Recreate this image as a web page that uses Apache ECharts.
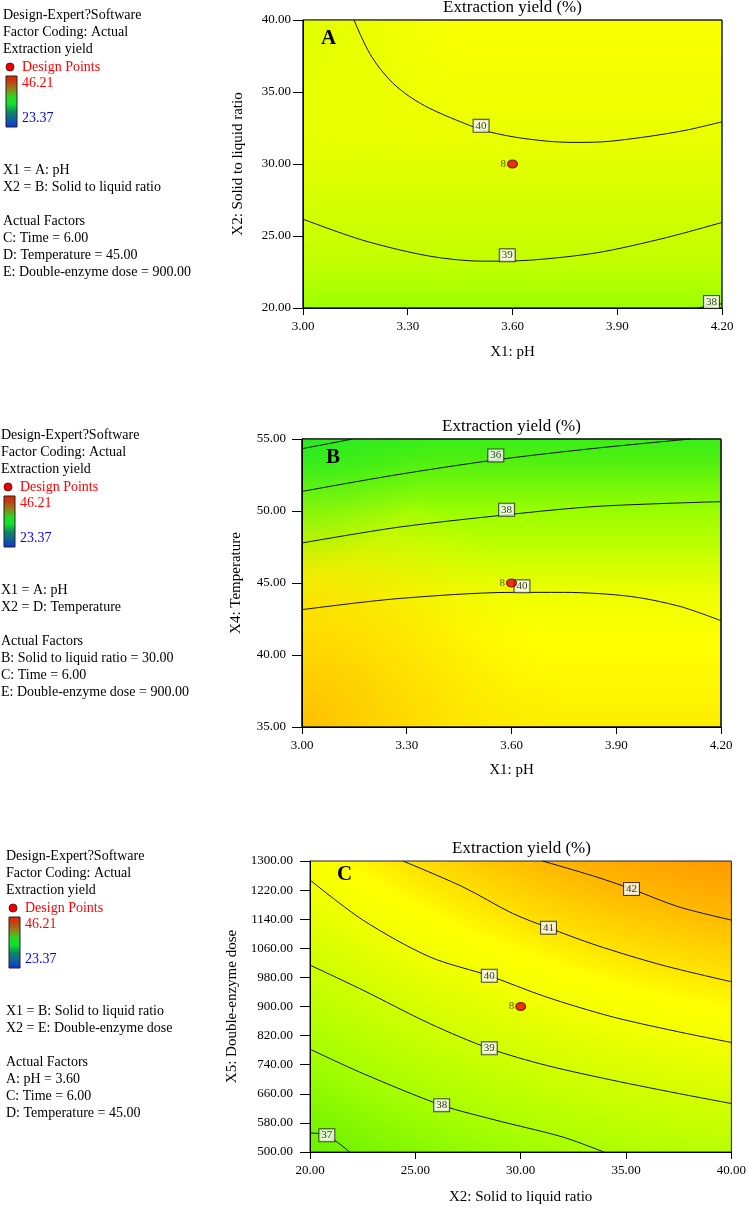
<!DOCTYPE html>
<html><head><meta charset="utf-8">
<script src="https://cdn.jsdelivr.net/npm/echarts@6/dist/echarts.min.js"></script>
<style>html,body{margin:0;padding:0;background:#fff}#c{width:749px;height:1208px}</style>
</head><body><div id="c"></div>
<script>
const FONT = "'Liberation Serif','Times New Roman',serif";

// ---------- Panel A : pH vs Solid to liquid ratio ----------
const A_xTicks = [3.00, 3.30, 3.60, 3.90, 4.20];
const A_yTicks = [20, 25, 30, 35, 40];
const A_c40 = [[3.146,40],[3.167,38.84],[3.191,37.68],[3.22,36.64],[3.258,35.6],[3.306,34.67],[3.363,33.86],[3.439,33.05],[3.516,32.35],[3.601,31.89],[3.697,31.59],[3.773,31.5],[3.859,31.54],[3.983,31.89],[4.098,32.35],[4.20,32.93]];
const A_c39 = [[3.0,26.17],[3.172,24.7],[3.363,23.6],[3.515,23.25],[3.649,23.32],[3.84,23.83],[4.031,24.83],[4.20,25.94]];
const A_c38 = [[4.13,20.0],[4.2,20.3]];
const A_labels = [[3.51,32.65,'40'],[3.585,23.66,'39'],[4.17,20.42,'38']];
const A_points = [[3.6,30,'8']];

// ---------- Panel B : pH vs Temperature ----------
const B_xTicks = [3.00, 3.30, 3.60, 3.90, 4.20];
const B_yTicks = [35, 40, 45, 50, 55];
const B_c35 = [[3.0,54.33],[3.07,54.65],[3.145,55.0]];
const B_c36 = [[3.0,51.36],[3.272,52.52],[3.558,53.56],[3.845,54.37],[4.112,55.0]];
const B_c38 = [[3.0,47.78],[3.272,48.86],[3.587,49.74],[3.845,50.32],[4.2,50.65]];
const B_c40 = [[3.0,43.15],[3.272,43.91],[3.606,44.35],[3.749,44.35],[3.94,44.07],[4.083,43.37],[4.2,42.38]];
const B_labels = [[3.555,53.86,'36'],[3.586,50.09,'38'],[3.63,44.77,'40']];
const B_points = [[3.6,45,'8']];

// ---------- Panel C : Solid to liquid ratio vs Double-enzyme dose ----------
const C_xTicks = [20, 25, 30, 35, 40];
const C_yTicks = [500, 580, 660, 740, 820, 900, 980, 1060, 1140, 1220, 1300];
const C_c42 = [[31.03,1300],[33.56,1256.8],[35.26,1223],[37.5,1174],[40,1137.6]];
const C_c41 = [[24.41,1300],[27.25,1229],[29.61,1156],[31.32,1116.5],[33.56,1068.9],[36.71,1013.8],[40,968]];
const C_c40 = [[20,1247.7],[22.51,1137.6],[25.67,1036.7],[28.51,984.4],[31.19,926.6],[34.35,871.6],[37.5,830.3],[40,801]];
const C_c39 = [[20,1013.8],[22.51,945],[25.67,853.4],[28.51,784.6],[31.19,738.6],[34.35,697.4],[37.5,660.7],[40,633.2]];
const C_c38 = [[20,782.7],[22.51,715.8],[26.25,628.6],[28.83,587.3],[31.98,541.4],[33.95,500]];
const C_c37 = [[20,552.3],[20.79,546],[21.88,500]];
const C_labels = [[35.26,1223,'42'],[31.32,1116.5,'41'],[28.51,984.4,'40'],[28.51,785,'39'],[26.25,628.6,'38'],[20.8,546,'37']];
const C_points = [[30,900,'8']];

const panels = [
  {rect:{left:303,top:20,width:419,height:288}, xT:A_xTicks, yT:A_yTicks, xName:'X1: pH', yName:'X2: Solid to liquid ratio',
   xGap:37, yGap:57, yMargin:12, contours:[A_c40,A_c39,A_c38], labels:A_labels, points:A_points, letter:'A', letterPos:[18,8],
   bg:{type:'linear',x:0,y:0,x2:0,y2:1,colorStops:[{offset:0,color:'#fcff00'},{offset:0.41,color:'#eaff00'},{offset:0.84,color:'#c2ff00'},{offset:1,color:'#9cff00'}]},
   overlays:[{type:'radial',x:0,y:0,r:0.55,colorStops:[{offset:0,color:'rgba(222,255,0,0.9)'},{offset:1,color:'rgba(222,255,0,0)'}]}]},
  {rect:{left:302,top:439,width:419,height:288}, xT:B_xTicks, yT:B_yTicks, xName:'X1: pH', yName:'X4: Temperature',
   xGap:36, yGap:58, yMargin:16, contours:[B_c35,B_c36,B_c38,B_c40], labels:B_labels, points:B_points, letter:'B', letterPos:[24,8],
   bg:{type:'linear',x:0,y:0,x2:0,y2:1,colorStops:[{offset:0,color:'#38ee18'},{offset:0.072,color:'#4ef010'},{offset:0.263,color:'#9eff00'},{offset:0.533,color:'#eeff00'},{offset:0.7,color:'#ffff00'},{offset:1,color:'#fcee00'}]},
   overlays:[{type:'radial',x:0,y:1,r:0.9,colorStops:[{offset:0,color:'rgba(255,190,0,1)'},{offset:0.5,color:'rgba(255,212,0,0.6)'},{offset:1,color:'rgba(255,240,0,0)'}]},
             {type:'radial',x:0,y:0,r:0.45,colorStops:[{offset:0,color:'rgba(30,232,40,0.6)'},{offset:1,color:'rgba(30,232,40,0)'}]}]},
  {rect:{left:310,top:861,width:423,height:291}, xT:C_xTicks, yT:C_yTicks, xName:'X2: Solid to liquid ratio', yName:'X5: Double-enzyme dose',
   xGap:38, yGap:66, yMargin:17, contours:[C_c42,C_c41,C_c40,C_c39,C_c38,C_c37], labels:C_labels, points:C_points, letter:'C', letterPos:[27,3],
   bg:{type:'radial',x:1.35,y:-2.876,r:4.467,colorStops:[{offset:0,color:'#ff8000'},{offset:0.654,color:'#ff9a00'},{offset:0.695,color:'#ffb800'},{offset:0.742,color:'#ffe400'},{offset:0.767,color:'#ffff00'},{offset:0.792,color:'#f4ff00'},{offset:0.843,color:'#d0ff00'},{offset:0.898,color:'#a8ff00'},{offset:0.96,color:'#72f400'},{offset:1,color:'#50ee00'}]},
   overlays:[]}
];

const grids = [], xAxes = [], yAxes = [], series = [], titles = [], graphics = [];
const overlayGrids = [];
panels.forEach((p, i) => {
  grids.push(Object.assign({show:true, backgroundColor:p.bg, borderColor:'#222', borderWidth:1}, p.rect));
  p.overlays.forEach(o => overlayGrids.push(Object.assign({show:true, backgroundColor:o, borderColor:'#222', borderWidth:1}, p.rect)));
  const axisCommon = {type:'value', nameLocation:'middle', splitLine:{show:false},
    axisLine:{show:true, lineStyle:{color:'#000', width:1}},
    nameTextStyle:{fontFamily:FONT, fontSize:15, color:'#000'}};
  xAxes.push(Object.assign({}, axisCommon, {gridIndex:i, min:p.xT[0], max:p.xT[p.xT.length-1],
    interval:+(p.xT[1]-p.xT[0]).toFixed(4), name:p.xName, nameGap:p.xGap,
    axisTick:{show:true, length:7, lineStyle:{color:'#000'}},
    axisLabel:{fontFamily:FONT, fontSize:13, color:'#000', margin:12, formatter:v=>v.toFixed(2), showMinLabel:true, showMaxLabel:true}}));
  yAxes.push(Object.assign({}, axisCommon, {gridIndex:i, min:p.yT[0], max:p.yT[p.yT.length-1],
    interval:+(p.yT[1]-p.yT[0]).toFixed(4), name:p.yName, nameGap:p.yGap,
    axisTick:{show:true, length:10, lineStyle:{color:'#000'}},
    axisLabel:{fontFamily:FONT, fontSize:13, color:'#000', margin:p.yMargin, formatter:v=>v.toFixed(2), showMinLabel:true, showMaxLabel:true}}));
  p.contours.forEach(c => series.push({type:'line', xAxisIndex:i, yAxisIndex:i, data:c, smooth:0.3,
    showSymbol:false, symbol:'none', clip:true, lineStyle:{color:'#111', width:1}, z:3, silent:true}));
  series.push({type:'scatter', xAxisIndex:i, yAxisIndex:i, data:p.labels, symbolSize:2, itemStyle:{color:'rgba(0,0,0,0)'}, z:5, silent:true,
    label:{show:true, position:'inside', formatter:d=>d.value[2], fontFamily:FONT, fontSize:11, color:'#000',
      backgroundColor:'#fff', borderColor:'#222', borderWidth:1, padding:[1,2,0,2], lineHeight:11}});
  series.push({type:'scatter', xAxisIndex:i, yAxisIndex:i, data:p.points, symbol:'circle', symbolSize:[10,8], z:6, silent:true,
    itemStyle:{color:'#ee0000', borderColor:'#500', borderWidth:1},
    label:{show:true, position:'left', distance:1, formatter:d=>d.value[2], fontFamily:FONT, fontSize:11, color:'#3a3000'}});
  titles.push({text:'Extraction yield (%)', left:p.rect.left + p.rect.width/2, top:p.rect.top - 21, textAlign:'center', padding:0,
    textStyle:{fontFamily:FONT, fontSize:17, fontWeight:'normal', color:'#000'}});
  titles.push({text:p.letter, left:p.rect.left + p.letterPos[0], top:p.rect.top + p.letterPos[1], padding:0,
    textStyle:{fontFamily:FONT, fontSize:21, fontWeight:'bold', color:'#000'}});
});

// ---------- left-hand legend text ----------
const legendBlocks = [
  {x:3, y:15, lines:['X1 = A: pH','X2 = B: Solid to liquid ratio'], factors:['C: Time = 6.00','D: Temperature = 45.00','E: Double-enzyme dose = 900.00']},
  {x:1, y:435, lines:['X1 = A: pH','X2 = D: Temperature'], factors:['B: Solid to liquid ratio = 30.00','C: Time = 6.00','E: Double-enzyme dose = 900.00']},
  {x:6, y:856, lines:['X1 = B: Solid to liquid ratio','X2 = E: Double-enzyme dose'], factors:['A: pH = 3.60','C: Time = 6.00','D: Temperature = 45.00']}
];
function txt(x, y, t, color) {
  return {type:'text', x:x, y:y, silent:true, style:{text:t, fill:color||'#000', font:'14px ' + FONT, verticalAlign:'middle', align:'left'}};
}
legendBlocks.forEach(b => {
  graphics.push(txt(b.x, b.y, 'Design-Expert?Software'));
  graphics.push(txt(b.x, b.y+17, 'Factor Coding: Actual'));
  graphics.push(txt(b.x, b.y+34, 'Extraction yield'));
  graphics.push({type:'circle', shape:{cx:b.x+7, cy:b.y+52, r:4}, style:{fill:'#ee0000', stroke:'#600', lineWidth:0.8}});
  graphics.push(txt(b.x+19, b.y+52, 'Design Points', '#ff0000'));
  graphics.push({type:'rect', shape:{x:b.x+3, y:b.y+61, width:11, height:51},
    style:{stroke:'#222', lineWidth:1, fill:{type:'linear',x:0,y:0,x2:0,y2:1,colorStops:[
      {offset:0,color:'#f02000'},{offset:0.12,color:'#c04010'},{offset:0.28,color:'#8a8a18'},{offset:0.42,color:'#22dd22'},
      {offset:0.55,color:'#10e030'},{offset:0.7,color:'#108860'},{offset:0.85,color:'#1060a0'},{offset:1,color:'#1030e0'}]}}});
  graphics.push(txt(b.x+19, b.y+68, '46.21', '#ff0000'));
  graphics.push(txt(b.x+19, b.y+103, '23.37', '#0000ff'));
  graphics.push(txt(b.x, b.y+155, b.lines[0]));
  graphics.push(txt(b.x, b.y+172, b.lines[1]));
  graphics.push(txt(b.x, b.y+206, 'Actual Factors'));
  b.factors.forEach((f, k) => graphics.push(txt(b.x, b.y+223+17*k, f)));
});

const chart = echarts.init(document.getElementById('c'), null, {renderer:'canvas'});
chart.setOption({
  animation:false,
  backgroundColor:'#fff',
  title:titles,
  grid:grids.concat(overlayGrids),
  xAxis:xAxes,
  yAxis:yAxes,
  series:series,
  graphic:graphics
});
</script></body></html>
